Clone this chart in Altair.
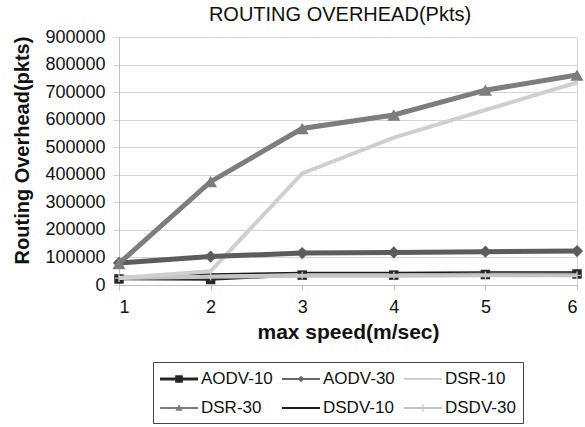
import altair as alt
import pandas as pd

# Routing overhead (packets) per routing protocol and node count, against max node speed
speeds = [1, 2, 3, 4, 5, 6]
series_names = ["AODV-10", "AODV-30", "DSR-10", "DSR-30", "DSDV-10", "DSDV-30"]
aodv_10 = [22000, 20000, 36000, 36000, 38000, 40000]
aodv_30 = [80000, 103000, 116000, 118000, 121000, 123000]
dsr_10 = [25000, 50000, 405000, 535000, 635000, 735000]
dsr_30 = [78000, 375000, 568000, 617000, 707000, 762000]
dsdv_10 = [30000, 40000, 45000, 45000, 47000, 47000]
dsdv_30 = [25000, 30000, 34000, 34000, 35000, 35000]

values = {
    "AODV-10": aodv_10,
    "AODV-30": aodv_30,
    "DSR-10": dsr_10,
    "DSR-30": dsr_30,
    "DSDV-10": dsdv_10,
    "DSDV-30": dsdv_30,
}
df = pd.DataFrame(
    [
        {"speed": s, "series": name, "overhead": v}
        for name in series_names
        for s, v in zip(speeds, values[name])
    ]
)

FONT = "Liberation Sans"

# line / marker look of each series
PLUS = "M-1,-0.18H1V0.18H-1Z M-0.18,-1H0.18V1H-0.18Z"
styles = {
    "AODV-10": dict(color="#262626", width=2.5, shape="square", size=90),
    "AODV-30": dict(color="#5c5c5c", width=5, shape="diamond", size=150),
    "DSR-10": dict(color="#cfcfcf", width=4, shape=None, size=0),
    "DSR-30": dict(color="#7d7d7d", width=5, shape="triangle-up", size=170),
    "DSDV-10": dict(color="#1a1a1a", width=1.5, shape=None, size=0),
    "DSDV-30": dict(color="#c4c4c4", width=4, shape=PLUS, size=60),
}
draw_order = ["DSDV-10", "AODV-10", "DSDV-30", "DSR-10", "AODV-30", "DSR-30"]

# legend glyphs: a short line (x from -1 to 2.8) with the series marker at its middle
legend_paths = [
    "M-1,-0.15H2.8V0.15H-1Z M0.52,-0.38H1.28V0.38H0.52Z",
    "M-1,-0.11H2.8V0.11H-1Z M0.9,-0.32L1.22,0L0.9,0.32L0.58,0Z",
    "M-1,-0.1H2.8V0.1H-1Z",
    "M-1,-0.11H2.8V0.11H-1Z M0.9,-0.38L1.26,0.27H0.54Z",
    "M-1,-0.1H2.8V0.1H-1Z",
    "M-1,-0.1H2.8V0.1H-1Z M0.84,-0.38H0.96V0.38H0.84Z",
]
legend_colors = ["#262626", "#666666", "#cfcfcf", "#7d7d7d", "#1a1a1a", "#c4c4c4"]

X = alt.X(
    "speed:Q",
    scale=alt.Scale(domain=[1, 6], nice=False, zero=False),
    axis=alt.Axis(
        values=speeds,
        format="d",
        grid=False,
        domainColor="#bfbfbf",
        tickColor="#bfbfbf",
        tickSize=5,
        labelFontSize=18,
        labelColor="#111111",
        labelPadding=8,
        title="max speed(m/sec)",
        titleFontSize=21,
        titleFontWeight="bold",
        titleColor="#111111",
        titleX=229,
        titleY=47,
        titleBaseline="middle",
    ),
)
Y = alt.Y(
    "overhead:Q",
    scale=alt.Scale(domain=[0, 900000], nice=False),
    axis=alt.Axis(
        values=list(range(0, 900001, 100000)),
        format="d",
        grid=True,
        gridColor="#d6d6d6",
        domainColor="#bfbfbf",
        tickColor="#d6d6d6",
        tickSize=6,
        labelFontSize=18,
        labelColor="#111111",
        labelPadding=8,
        title="Routing Overhead(pkts)",
        titleFontSize=20,
        titleFontWeight="bold",
        titleColor="#111111",
        titleAngle=270,
        titleX=-97,
        titleY=113,
        titleAlign="center",
        titleBaseline="middle",
    ),
)

layers = []
for name in draw_order:
    st = styles[name]
    base = alt.Chart(df).transform_filter(alt.datum.series == name)
    layers.append(
        base.mark_line(color=st["color"], strokeWidth=st["width"]).encode(x=X, y=Y)
    )
    if st["shape"]:
        layers.append(
            base.mark_point(
                filled=True, shape=st["shape"], size=st["size"], color=st["color"], opacity=1
            ).encode(x=X, y=Y)
        )

legend_def = alt.Legend(
    title=None,
    orient="none",
    direction="horizontal",
    legendX=34,
    legendY=325,
    columns=3,
    gridAlign="all",
    columnPadding=9,
    rowPadding=11,
    padding=7,
    strokeColor="#444444",
    fillColor="white",
    symbolSize=400,
    symbolOpacity=1,
    symbolStrokeWidth=0,
    labelFontSize=17,
    labelFont=FONT,
    labelColor="#111111",
    labelOffset=21,
)
legend_layer = alt.Chart(df).mark_point(filled=True, opacity=0).encode(
    x=X,
    y=Y,
    color=alt.Color(
        "series:N",
        scale=alt.Scale(domain=series_names, range=legend_colors),
        legend=legend_def,
    ),
    shape=alt.Shape(
        "series:N",
        scale=alt.Scale(domain=series_names, range=legend_paths),
        legend=legend_def,
    ),
)

chart = (
    alt.layer(*layers, legend_layer)
    .properties(
        width=458,
        height=248,
        padding={"left": 119, "top": 37, "right": 8, "bottom": 142},
        autosize=alt.AutoSizeParams(type="none"),
        background="white",
        title=alt.TitleParams(
            "ROUTING OVERHEAD(Pkts)",
            font=FONT,
            fontSize=20,
            fontWeight="normal",
            color="#111111",
            anchor="middle",
            dx=-8,
            offset=3,
        ),
    )
    .configure(font=FONT)
    .configure_view(stroke="#d6d6d6", strokeWidth=1)
    .configure_axis(labelFont=FONT, titleFont=FONT)
)

chart.save("out.html", embed_options={"renderer": "svg", "actions": False})
